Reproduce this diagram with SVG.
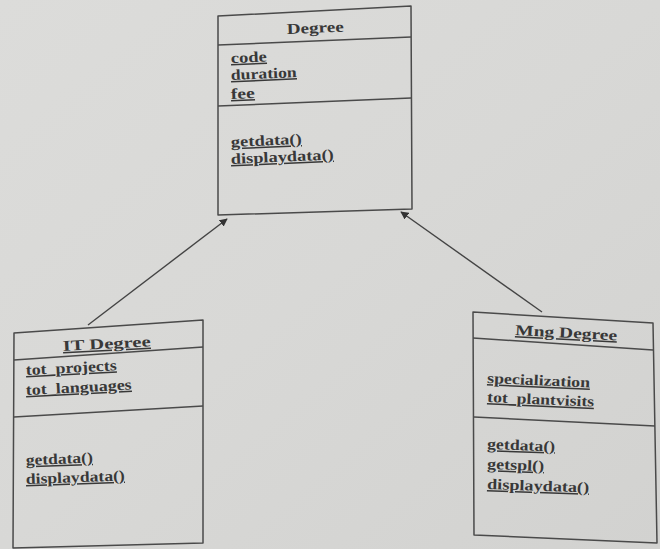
<svg xmlns="http://www.w3.org/2000/svg" width="660" height="549" viewBox="0 0 660 549">
  <defs>
    <linearGradient id="bg" x1="0" y1="0" x2="1" y2="1">
      <stop offset="0" stop-color="#dcdcda"/>
      <stop offset="0.5" stop-color="#d8d8d6"/>
      <stop offset="1" stop-color="#d2d2d0"/>
    </linearGradient>
    <marker id="head" viewBox="0 0 10 10" refX="9" refY="5" markerWidth="8" markerHeight="8" markerUnits="userSpaceOnUse" orient="auto">
      <path d="M0,0 L10,5 L0,10 z" fill="#333"/>
    </marker>
    <style>
      .box { fill: none; stroke: #4a4a4a; stroke-width: 1.5; stroke-linejoin: round; }
      .div { stroke: #4a4a4a; stroke-width: 1.5; }
      .t { font-family: "Liberation Serif", "Times New Roman", serif; font-weight: bold; font-size: 15px; fill: #383838; text-decoration: underline; }
      .plain { text-decoration: none; }
      .conn { stroke: #444; stroke-width: 1.4; fill: none; }
    </style>
  </defs>
  <rect x="0" y="0" width="660" height="549" fill="url(#bg)"/>

  <g id="connectors">
    <line class="conn" x1="88" y1="325" x2="227" y2="219" marker-end="url(#head)"/>
    <line class="conn" x1="542" y1="312" x2="401" y2="212" marker-end="url(#head)"/>
  </g>

  <g id="degree">
    <polygon class="box" points="218,16 411,6 412,209 218,215"/>
    <line class="div" x1="218" y1="45" x2="411" y2="37"/>
    <line class="div" x1="218" y1="106" x2="411" y2="98"/>
    <text class="t plain" x="287" y="34" transform="rotate(-2.5 287 34)" textLength="57" lengthAdjust="spacingAndGlyphs">Degree</text>
    <text class="t" x="231" y="63" transform="rotate(-2.5 231 63)" textLength="36" lengthAdjust="spacingAndGlyphs">code</text>
    <text class="t" x="231" y="80" transform="rotate(-2.5 231 80)" textLength="66" lengthAdjust="spacingAndGlyphs">duration</text>
    <text class="t" x="231" y="99" transform="rotate(-2.5 231 99)" textLength="24" lengthAdjust="spacingAndGlyphs">fee</text>
    <text class="t" x="231" y="147" transform="rotate(-2.5 231 147)" textLength="71" lengthAdjust="spacingAndGlyphs">getdata()</text>
    <text class="t" x="231" y="164" transform="rotate(-2.5 231 164)" textLength="103" lengthAdjust="spacingAndGlyphs">displaydata()</text>
  </g>

  <g id="it-degree">
    <polygon class="box" points="14,333 203,320 203,543 13,548"/>
    <line class="div" x1="14" y1="360" x2="203" y2="347"/>
    <line class="div" x1="14" y1="417" x2="203" y2="406"/>
    <text class="t" x="63" y="351" transform="rotate(-3 63 351)" textLength="88" lengthAdjust="spacingAndGlyphs">IT Degree</text>
    <text class="t" x="26" y="375" transform="rotate(-3 26 375)" textLength="91" lengthAdjust="spacingAndGlyphs">tot_projects</text>
    <text class="t" x="26" y="395" transform="rotate(-3 26 395)" textLength="106" lengthAdjust="spacingAndGlyphs">tot_languages</text>
    <text class="t" x="26" y="465" transform="rotate(-2 26 465)" textLength="67" lengthAdjust="spacingAndGlyphs">getdata()</text>
    <text class="t" x="26" y="484" transform="rotate(-2 26 484)" textLength="99" lengthAdjust="spacingAndGlyphs">displaydata()</text>
  </g>

  <g id="mng-degree">
    <polygon class="box" points="473,312 653,323 657,543 474,535"/>
    <line class="div" x1="473" y1="338" x2="653" y2="350"/>
    <line class="div" x1="474" y1="417" x2="655" y2="426"/>
    <text class="t" x="515" y="335" transform="rotate(3 515 335)" textLength="102" lengthAdjust="spacingAndGlyphs">Mng Degree</text>
    <text class="t" x="487" y="383" transform="rotate(2.5 487 383)" textLength="103" lengthAdjust="spacingAndGlyphs">specialization</text>
    <text class="t" x="487" y="402" transform="rotate(2.5 487 402)" textLength="107" lengthAdjust="spacingAndGlyphs">tot_plantvisits</text>
    <text class="t" x="487" y="449" transform="rotate(2 487 449)" textLength="68" lengthAdjust="spacingAndGlyphs">getdata()</text>
    <text class="t" x="487" y="469" transform="rotate(2 487 469)" textLength="57" lengthAdjust="spacingAndGlyphs">getspl()</text>
    <text class="t" x="487" y="489" transform="rotate(2 487 489)" textLength="102" lengthAdjust="spacingAndGlyphs">displaydata()</text>
  </g>
</svg>
